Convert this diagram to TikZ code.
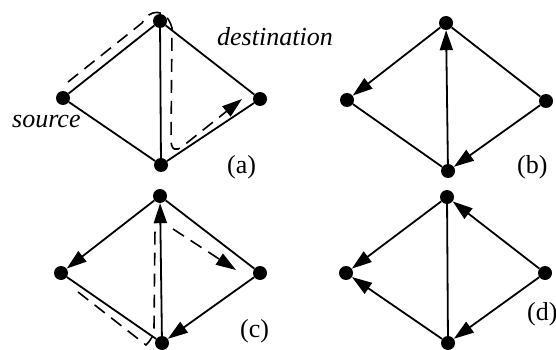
\documentclass[tikz,border=0pt]{standalone}
\usepackage{fontspec}
\setmainfont{Liberation Serif}
\usetikzlibrary{arrows.meta}
\begin{document}
\begin{tikzpicture}[x=1pt,y=-1pt,
  dot/.style={circle,fill=black,inner sep=0pt,minimum size=14pt},
  edge/.style={line width=1.8pt},
  arr/.style={edge,-{Triangle[length=20pt,width=13pt]}},
  dpath/.style={line width=1.6pt,dash pattern=on 13pt off 8pt},
  lbl/.style={font=\fontsize{26}{30}\selectfont,inner sep=0pt,anchor=base west},
  ilbl/.style={lbl,font=\fontsize{26}{30}\selectfont\itshape}]
\useasboundingbox (0,0) rectangle (556,350);
% (a)
\node[dot] (aL) at (63,98) {};
\node[dot] (aT) at (160,21) {};
\node[dot] (aR) at (260,99) {};
\node[dot] (aB) at (161,165) {};
\draw[edge] (aL) -- (aT) -- (aR) -- (aB) -- (aL);
\draw[edge] (aT) -- (aB);
\coordinate (a1) at (68,82);
\coordinate (a2) at (142,23);
\coordinate (a3) at (172,28);
\coordinate (a4) at (171,140);
\coordinate (a5) at (183,146);
\coordinate (a6) at (242,99);
\draw[dpath,-{Triangle[length=20pt,width=13pt]}] (a1) -- (a2) .. controls (148,10) and (166,6) .. (a3) -- (a4) .. controls (171,150) and (176,152) .. (a5) -- (a6);
\node[ilbl] (dest) at (217,46) {destination};
\node[ilbl] (src) at (12,128) {source};
\node[lbl] (la) at (227,173) {(a)};
% (b)
\node[dot] (bL) at (347,100) {};
\node[dot] (bT) at (446,23) {};
\node[dot] (bR) at (546,101) {};
\node[dot] (bB) at (448,171) {};
\draw[edge] (bL) -- (bB);
\draw[edge] (bT) -- (bR);
\draw[arr] (bT) -- (bL);
\draw[arr] (bB) -- (bT);
\draw[arr] (bR) -- (bB);
\node[lbl] (lb) at (517,173) {(b)};
% (c)
\node[dot] (cL) at (61,273) {};
\node[dot] (cT) at (160,196) {};
\node[dot] (cR) at (260,273) {};
\node[dot] (cB) at (162,343) {};
\draw[edge] (cL) -- (cB);
\draw[edge] (cT) -- (cR);
\draw[arr] (cT) -- (cL);
\draw[arr] (cB) -- (cT);
\draw[arr] (cR) -- (cB);
\coordinate (c1) at (78,292);
\coordinate (c2) at (146,345);
\coordinate (c3) at (155,228);
\coordinate (c4) at (173,229);
\coordinate (c5) at (236,270);
\draw[dpath] (c1) -- (c2) .. controls (151,340) and (154,335) .. (154,328) -- (c3);
\draw[dpath,-{Triangle[length=20pt,width=13pt]}] (c4) -- (c5);
\node[lbl] (lc) at (240,337) {(c)};
% (d)
\node[dot] (dL) at (346,273) {};
\node[dot] (dT) at (447,197) {};
\node[dot] (dR) at (545,273) {};
\node[dot] (dB) at (448,343) {};
\draw[edge] (dT) -- (dB);
\draw[arr] (dT) -- (dL);
\draw[arr] (dB) -- (dL);
\draw[arr] (dR) -- (dT);
\draw[arr] (dR) -- (dB);
\node[lbl] (ld) at (527,320) {(d)};
\end{tikzpicture}
\end{document}
